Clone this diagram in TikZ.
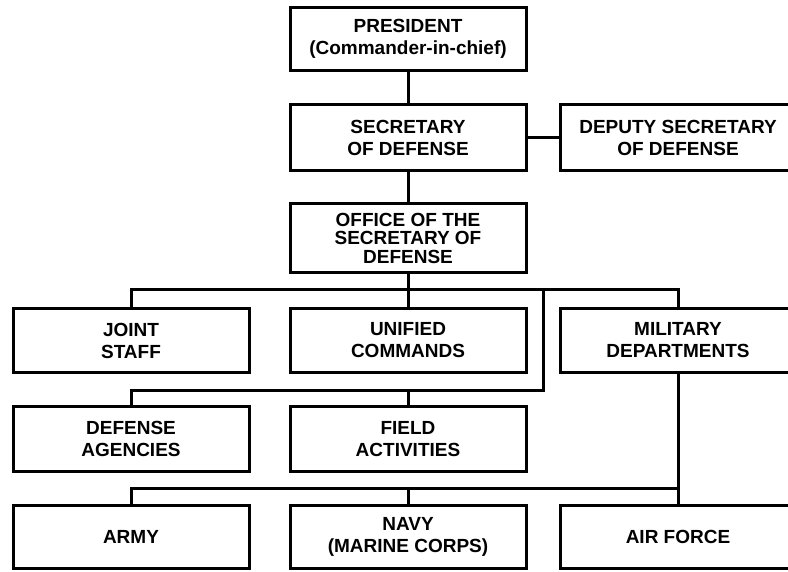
\documentclass[tikz,border=0pt]{standalone}
\usepackage{fontspec}
\setmainfont{Liberation Sans}
\begin{document}
\begin{tikzpicture}[x=1pt,y=-1pt,
    office/.style={draw, line width=3pt, minimum width=236pt, minimum height=64pt, inner sep=0pt, align=center, font=\fontsize{19}{22}\selectfont\bfseries},
    link/.style={line width=3pt}]
    \useasboundingbox (0,0) rectangle (788,572);
    \clip (0,0) rectangle (788,572);

   %TOP
    \node[office, minimum height=63pt] (president) at (408,39) {PRESIDENT\\(Commander-in-chief)};
    \node[office, minimum height=66pt] (secdef) at (408,137.5) {SECRETARY\\OF DEFENSE};
    \node[office, minimum height=66pt] (deputy) at (678,137.5) {DEPUTY SECRETARY\\OF DEFENSE};
    \node[office, minimum height=69pt, font=\fontsize{19}{18.5}\selectfont\bfseries] (osd) at (408,238) {OFFICE OF THE\\SECRETARY OF\\DEFENSE};

    \draw[link] (president) -- (secdef);
    \draw[link] (secdef) -- (deputy);
    \draw[link] (secdef) -- (osd);

   %FIRST ROW
    \node[office] (joint) at (131,340.5) {JOINT\\STAFF};
    \node[office] (unified) at (408,340.5) {UNIFIED\\COMMANDS};
    \node[office] (military) at (678,340.5) {MILITARY\\DEPARTMENTS};

    \coordinate (busA) at (408,290);
    \coordinate (loopA) at (543,290);
    \coordinate (loopB) at (543,390);
    \draw[link] (osd) -- (unified);
    \draw[link] (joint.north) |- (busA) -| (military.north);

   %SECOND ROW
    \node[office, minimum height=65pt] (agencies) at (131,439) {DEFENSE\\AGENCIES};
    \node[office, minimum height=65pt] (field) at (408,439) {FIELD\\ACTIVITIES};

    \draw[link] (loopA) -- (loopB) -| (agencies.north);
    \draw[link] (field.north) -- (field.north |- loopB);

   %SERVICES
    \node[office, minimum height=63pt] (army) at (131,537) {ARMY};
    \node[office, minimum height=63pt] (navy) at (408,537) {NAVY\\(MARINE CORPS)};
    \node[office, minimum height=63pt] (airforce) at (678,537) {AIR FORCE};

    \coordinate (busC) at (678,488);
    \draw[link] (military) -- (airforce);
    \draw[link] (busC) -| (army.north);
    \draw[link] (navy.north) -- (navy.north |- busC);

 \end{tikzpicture}
\end{document}
